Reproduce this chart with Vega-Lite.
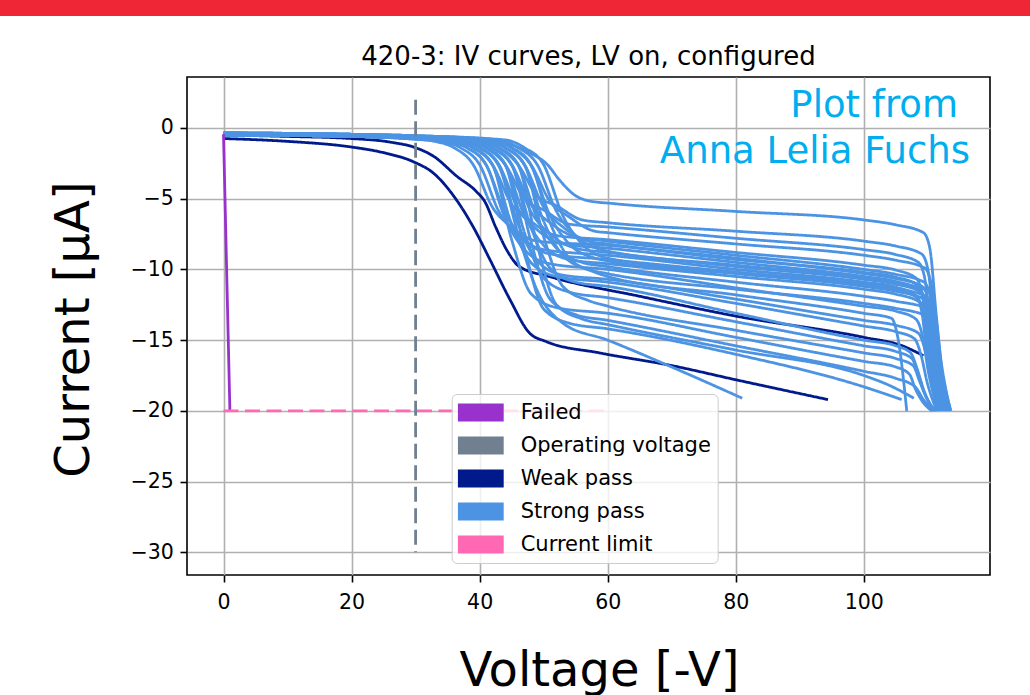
{
  "$schema": "https://vega.github.io/schema/vega-lite/v6.json",
  "width": 803,
  "height": 498,
  "autosize": {"type": "none"},
  "padding": {"left": 187, "top": 77, "right": 40, "bottom": 120},
  "background": "#ffffff",
  "title": {"text": "420-3: IV curves, LV on, configured", "fontSize": 26, "fontWeight": "normal", "color": "#000000", "font": "DejaVu Sans", "anchor": "middle", "baseline": "alphabetic", "offset": -104.2},
  "datasets": {
    "iv": [
      {"id":"w1","status":"Weak pass","V":0,"I":-0.75},{"id":"w1","status":"Weak pass","V":10,"I":-0.95},{"id":"w1","status":"Weak pass","V":20,"I":-1.35},{"id":"w1","status":"Weak pass","V":25,"I":-1.75},{"id":"w1","status":"Weak pass","V":29.7,"I":-2.4},{"id":"w1","status":"Weak pass","V":32.8,"I":-3.2},{"id":"w1","status":"Weak pass","V":36.4,"I":-5.1},{"id":"w1","status":"Weak pass","V":39,"I":-7.0},{"id":"w1","status":"Weak pass","V":41.6,"I":-9.3},{"id":"w1","status":"Weak pass","V":44.7,"I":-12.1},{"id":"w1","status":"Weak pass","V":47.8,"I":-14.5},{"id":"w1","status":"Weak pass","V":50.4,"I":-15.1},{"id":"w1","status":"Weak pass","V":58.7,"I":-15.9},{"id":"w1","status":"Weak pass","V":70,"I":-16.8},{"id":"w1","status":"Weak pass","V":80,"I":-17.8},{"id":"w1","status":"Weak pass","V":94.4,"I":-19.2},
      {"id":"w2","status":"Weak pass","V":0,"I":-0.5},{"id":"w2","status":"Weak pass","V":10,"I":-0.6},{"id":"w2","status":"Weak pass","V":20,"I":-0.75},{"id":"w2","status":"Weak pass","V":26,"I":-1.0},{"id":"w2","status":"Weak pass","V":30,"I":-1.4},{"id":"w2","status":"Weak pass","V":32.8,"I":-2.0},{"id":"w2","status":"Weak pass","V":36.4,"I":-3.4},{"id":"w2","status":"Weak pass","V":39.5,"I":-4.5},{"id":"w2","status":"Weak pass","V":40.8,"I":-5.2},{"id":"w2","status":"Weak pass","V":42.5,"I":-7.0},{"id":"w2","status":"Weak pass","V":44.2,"I":-8.6},{"id":"w2","status":"Weak pass","V":46.2,"I":-9.8},{"id":"w2","status":"Weak pass","V":50.9,"I":-10.5},{"id":"w2","status":"Weak pass","V":65,"I":-11.9},{"id":"w2","status":"Weak pass","V":80,"I":-13.3},{"id":"w2","status":"Weak pass","V":100,"I":-14.8},{"id":"w2","status":"Weak pass","V":106,"I":-15.4},{"id":"w2","status":"Weak pass","V":109.3,"I":-16.1},
      {"id":"s1","status":"Strong pass","V":0,"I":-0.35},{"id":"s1","status":"Strong pass","V":20,"I":-0.45},{"id":"s1","status":"Strong pass","V":30,"I":-0.55},{"id":"s1","status":"Strong pass","V":40,"I":-0.8},{"id":"s1","status":"Strong pass","V":45,"I":-1.2},{"id":"s1","status":"Strong pass","V":48,"I":-1.8},{"id":"s1","status":"Strong pass","V":50.6,"I":-2.6},{"id":"s1","status":"Strong pass","V":52.5,"I":-3.7},{"id":"s1","status":"Strong pass","V":54.7,"I":-4.7},{"id":"s1","status":"Strong pass","V":57,"I":-5.15},{"id":"s1","status":"Strong pass","V":61,"I":-5.35},{"id":"s1","status":"Strong pass","V":80,"I":-5.9},{"id":"s1","status":"Strong pass","V":100,"I":-6.5},{"id":"s1","status":"Strong pass","V":105,"I":-6.85},{"id":"s1","status":"Strong pass","V":109.3,"I":-7.4},{"id":"s1","status":"Strong pass","V":110.3,"I":-8.5},{"id":"s1","status":"Strong pass","V":111.3,"I":-13.2},{"id":"s1","status":"Strong pass","V":112.8,"I":-20},
      {"id":"s2","status":"Strong pass","V":0,"I":-0.4},{"id":"s2","status":"Strong pass","V":20,"I":-0.5},{"id":"s2","status":"Strong pass","V":30,"I":-0.65},{"id":"s2","status":"Strong pass","V":40,"I":-0.9},{"id":"s2","status":"Strong pass","V":43,"I":-1.4},{"id":"s2","status":"Strong pass","V":46,"I":-2.6},{"id":"s2","status":"Strong pass","V":49,"I":-4.8},{"id":"s2","status":"Strong pass","V":52,"I":-5.5},{"id":"s2","status":"Strong pass","V":56,"I":-6.5},{"id":"s2","status":"Strong pass","V":60,"I":-6.7},{"id":"s2","status":"Strong pass","V":80,"I":-7.3},{"id":"s2","status":"Strong pass","V":100,"I":-8.0},{"id":"s2","status":"Strong pass","V":105,"I":-8.35},{"id":"s2","status":"Strong pass","V":109,"I":-8.9},{"id":"s2","status":"Strong pass","V":110,"I":-10},{"id":"s2","status":"Strong pass","V":111,"I":-14},{"id":"s2","status":"Strong pass","V":112.5,"I":-20},
      {"id":"s3","status":"Strong pass","V":0,"I":-0.45},{"id":"s3","status":"Strong pass","V":20,"I":-0.55},{"id":"s3","status":"Strong pass","V":30,"I":-0.7},{"id":"s3","status":"Strong pass","V":38,"I":-0.9},{"id":"s3","status":"Strong pass","V":41,"I":-1.4},{"id":"s3","status":"Strong pass","V":44,"I":-2.6},{"id":"s3","status":"Strong pass","V":47,"I":-5.0},{"id":"s3","status":"Strong pass","V":50,"I":-5.8},{"id":"s3","status":"Strong pass","V":54,"I":-6.8},{"id":"s3","status":"Strong pass","V":60,"I":-7.0},{"id":"s3","status":"Strong pass","V":80,"I":-7.8},{"id":"s3","status":"Strong pass","V":100,"I":-8.6},{"id":"s3","status":"Strong pass","V":105,"I":-8.95},{"id":"s3","status":"Strong pass","V":108.5,"I":-9.5},{"id":"s3","status":"Strong pass","V":109.5,"I":-10.6},{"id":"s3","status":"Strong pass","V":110.5,"I":-15.3},{"id":"s3","status":"Strong pass","V":112,"I":-20},
      {"id":"s4","status":"Strong pass","V":0,"I":-0.4},{"id":"s4","status":"Strong pass","V":20,"I":-0.5},{"id":"s4","status":"Strong pass","V":30,"I":-0.6},{"id":"s4","status":"Strong pass","V":42,"I":-0.9},{"id":"s4","status":"Strong pass","V":45,"I":-1.4},{"id":"s4","status":"Strong pass","V":48,"I":-2.6},{"id":"s4","status":"Strong pass","V":51,"I":-5.2},{"id":"s4","status":"Strong pass","V":54,"I":-6.3},{"id":"s4","status":"Strong pass","V":58,"I":-7.3},{"id":"s4","status":"Strong pass","V":60,"I":-7.4},{"id":"s4","status":"Strong pass","V":80,"I":-8.2},{"id":"s4","status":"Strong pass","V":100,"I":-9.0},{"id":"s4","status":"Strong pass","V":105,"I":-9.35},{"id":"s4","status":"Strong pass","V":109.5,"I":-9.9},{"id":"s4","status":"Strong pass","V":110.5,"I":-11},{"id":"s4","status":"Strong pass","V":111.5,"I":-15.5},{"id":"s4","status":"Strong pass","V":113,"I":-20},
      {"id":"s5","status":"Strong pass","V":0,"I":-0.5},{"id":"s5","status":"Strong pass","V":20,"I":-0.6},{"id":"s5","status":"Strong pass","V":30,"I":-0.75},{"id":"s5","status":"Strong pass","V":36,"I":-0.95},{"id":"s5","status":"Strong pass","V":39,"I":-1.4},{"id":"s5","status":"Strong pass","V":42,"I":-2.6},{"id":"s5","status":"Strong pass","V":45,"I":-5.4},{"id":"s5","status":"Strong pass","V":48,"I":-6.6},{"id":"s5","status":"Strong pass","V":52,"I":-7.6},{"id":"s5","status":"Strong pass","V":60,"I":-7.9},{"id":"s5","status":"Strong pass","V":80,"I":-8.8},{"id":"s5","status":"Strong pass","V":100,"I":-9.7},{"id":"s5","status":"Strong pass","V":105,"I":-10.05},{"id":"s5","status":"Strong pass","V":108.1,"I":-10.6},{"id":"s5","status":"Strong pass","V":109.1,"I":-11.7},{"id":"s5","status":"Strong pass","V":110.1,"I":-15.9},{"id":"s5","status":"Strong pass","V":111.6,"I":-20},
      {"id":"s6","status":"Strong pass","V":0,"I":-0.35},{"id":"s6","status":"Strong pass","V":20,"I":-0.45},{"id":"s6","status":"Strong pass","V":30,"I":-0.6},{"id":"s6","status":"Strong pass","V":41,"I":-0.9},{"id":"s6","status":"Strong pass","V":44,"I":-1.4},{"id":"s6","status":"Strong pass","V":47,"I":-2.6},{"id":"s6","status":"Strong pass","V":50,"I":-5.6},{"id":"s6","status":"Strong pass","V":53,"I":-7.0},{"id":"s6","status":"Strong pass","V":57,"I":-8.0},{"id":"s6","status":"Strong pass","V":60,"I":-8.2},{"id":"s6","status":"Strong pass","V":80,"I":-9.2},{"id":"s6","status":"Strong pass","V":100,"I":-10.3},{"id":"s6","status":"Strong pass","V":105,"I":-10.65},{"id":"s6","status":"Strong pass","V":109.1,"I":-11.2},{"id":"s6","status":"Strong pass","V":110.1,"I":-12.3},{"id":"s6","status":"Strong pass","V":111.1,"I":-16.2},{"id":"s6","status":"Strong pass","V":112.6,"I":-20},
      {"id":"s7","status":"Strong pass","V":0,"I":-0.45},{"id":"s7","status":"Strong pass","V":20,"I":-0.55},{"id":"s7","status":"Strong pass","V":30,"I":-0.7},{"id":"s7","status":"Strong pass","V":37,"I":-0.95},{"id":"s7","status":"Strong pass","V":40,"I":-1.4},{"id":"s7","status":"Strong pass","V":43,"I":-2.6},{"id":"s7","status":"Strong pass","V":46,"I":-5.7},{"id":"s7","status":"Strong pass","V":49,"I":-7.2},{"id":"s7","status":"Strong pass","V":53,"I":-8.2},{"id":"s7","status":"Strong pass","V":60,"I":-8.5},{"id":"s7","status":"Strong pass","V":80,"I":-9.5},{"id":"s7","status":"Strong pass","V":100,"I":-10.5},{"id":"s7","status":"Strong pass","V":105,"I":-10.85},{"id":"s7","status":"Strong pass","V":108.5,"I":-11.4},{"id":"s7","status":"Strong pass","V":109.5,"I":-12.5},{"id":"s7","status":"Strong pass","V":110.5,"I":-16.3},{"id":"s7","status":"Strong pass","V":112,"I":-20},
      {"id":"s8","status":"Strong pass","V":0,"I":-0.4},{"id":"s8","status":"Strong pass","V":20,"I":-0.5},{"id":"s8","status":"Strong pass","V":30,"I":-0.65},{"id":"s8","status":"Strong pass","V":39,"I":-0.9},{"id":"s8","status":"Strong pass","V":42,"I":-1.4},{"id":"s8","status":"Strong pass","V":45,"I":-2.6},{"id":"s8","status":"Strong pass","V":48,"I":-5.9},{"id":"s8","status":"Strong pass","V":51,"I":-7.5},{"id":"s8","status":"Strong pass","V":55,"I":-8.5},{"id":"s8","status":"Strong pass","V":60,"I":-8.8},{"id":"s8","status":"Strong pass","V":80,"I":-9.8},{"id":"s8","status":"Strong pass","V":100,"I":-10.7},{"id":"s8","status":"Strong pass","V":105,"I":-11.05},{"id":"s8","status":"Strong pass","V":108.9,"I":-11.6},{"id":"s8","status":"Strong pass","V":109.9,"I":-12.7},{"id":"s8","status":"Strong pass","V":110.9,"I":-16.4},{"id":"s8","status":"Strong pass","V":112.4,"I":-20},
      {"id":"s9","status":"Strong pass","V":0,"I":-0.5},{"id":"s9","status":"Strong pass","V":20,"I":-0.6},{"id":"s9","status":"Strong pass","V":30,"I":-0.8},{"id":"s9","status":"Strong pass","V":34,"I":-0.95},{"id":"s9","status":"Strong pass","V":37,"I":-1.4},{"id":"s9","status":"Strong pass","V":40,"I":-2.6},{"id":"s9","status":"Strong pass","V":43,"I":-5.9},{"id":"s9","status":"Strong pass","V":46,"I":-7.6},{"id":"s9","status":"Strong pass","V":50,"I":-8.6},{"id":"s9","status":"Strong pass","V":60,"I":-9.0},{"id":"s9","status":"Strong pass","V":80,"I":-10.0},{"id":"s9","status":"Strong pass","V":100,"I":-10.9},{"id":"s9","status":"Strong pass","V":105,"I":-11.25},{"id":"s9","status":"Strong pass","V":108,"I":-11.8},{"id":"s9","status":"Strong pass","V":109,"I":-12.9},{"id":"s9","status":"Strong pass","V":110,"I":-16.5},{"id":"s9","status":"Strong pass","V":111.5,"I":-20},
      {"id":"s10","status":"Strong pass","V":0,"I":-0.35},{"id":"s10","status":"Strong pass","V":20,"I":-0.45},{"id":"s10","status":"Strong pass","V":30,"I":-0.55},{"id":"s10","status":"Strong pass","V":44,"I":-0.85},{"id":"s10","status":"Strong pass","V":47,"I":-1.4},{"id":"s10","status":"Strong pass","V":50,"I":-2.6},{"id":"s10","status":"Strong pass","V":53,"I":-6.2},{"id":"s10","status":"Strong pass","V":56,"I":-8.2},{"id":"s10","status":"Strong pass","V":60,"I":-9.2},{"id":"s10","status":"Strong pass","V":80,"I":-10.2},{"id":"s10","status":"Strong pass","V":100,"I":-11.0},{"id":"s10","status":"Strong pass","V":105,"I":-11.35},{"id":"s10","status":"Strong pass","V":109.7,"I":-11.9},{"id":"s10","status":"Strong pass","V":110.7,"I":-13},{"id":"s10","status":"Strong pass","V":111.7,"I":-16.5},{"id":"s10","status":"Strong pass","V":113.2,"I":-20},
      {"id":"s11","status":"Strong pass","V":0,"I":-0.45},{"id":"s11","status":"Strong pass","V":20,"I":-0.55},{"id":"s11","status":"Strong pass","V":30,"I":-0.7},{"id":"s11","status":"Strong pass","V":38,"I":-0.95},{"id":"s11","status":"Strong pass","V":41,"I":-1.4},{"id":"s11","status":"Strong pass","V":44,"I":-2.6},{"id":"s11","status":"Strong pass","V":47,"I":-6.2},{"id":"s11","status":"Strong pass","V":50,"I":-8.3},{"id":"s11","status":"Strong pass","V":54,"I":-9.3},{"id":"s11","status":"Strong pass","V":60,"I":-9.6},{"id":"s11","status":"Strong pass","V":80,"I":-10.5},{"id":"s11","status":"Strong pass","V":100,"I":-11.4},{"id":"s11","status":"Strong pass","V":105,"I":-11.75},{"id":"s11","status":"Strong pass","V":108.7,"I":-12.3},{"id":"s11","status":"Strong pass","V":109.7,"I":-13.4},{"id":"s11","status":"Strong pass","V":110.7,"I":-16.7},{"id":"s11","status":"Strong pass","V":112.2,"I":-20},
      {"id":"s12","status":"Strong pass","V":0,"I":-0.4},{"id":"s12","status":"Strong pass","V":20,"I":-0.5},{"id":"s12","status":"Strong pass","V":30,"I":-0.6},{"id":"s12","status":"Strong pass","V":40,"I":-0.9},{"id":"s12","status":"Strong pass","V":43,"I":-1.4},{"id":"s12","status":"Strong pass","V":46,"I":-2.6},{"id":"s12","status":"Strong pass","V":49,"I":-6.4},{"id":"s12","status":"Strong pass","V":52,"I":-8.5},{"id":"s12","status":"Strong pass","V":56,"I":-9.5},{"id":"s12","status":"Strong pass","V":60,"I":-9.8},{"id":"s12","status":"Strong pass","V":80,"I":-10.9},{"id":"s12","status":"Strong pass","V":100,"I":-11.9},{"id":"s12","status":"Strong pass","V":105,"I":-12.25},{"id":"s12","status":"Strong pass","V":110.1,"I":-12.8},{"id":"s12","status":"Strong pass","V":111.1,"I":-13.9},{"id":"s12","status":"Strong pass","V":112.1,"I":-17},{"id":"s12","status":"Strong pass","V":113.6,"I":-20},
      {"id":"s13","status":"Strong pass","V":0,"I":-0.5},{"id":"s13","status":"Strong pass","V":20,"I":-0.6},{"id":"s13","status":"Strong pass","V":30,"I":-0.75},{"id":"s13","status":"Strong pass","V":35,"I":-0.95},{"id":"s13","status":"Strong pass","V":38,"I":-1.4},{"id":"s13","status":"Strong pass","V":41,"I":-2.6},{"id":"s13","status":"Strong pass","V":44,"I":-6.4},{"id":"s13","status":"Strong pass","V":47,"I":-8.6},{"id":"s13","status":"Strong pass","V":51,"I":-9.6},{"id":"s13","status":"Strong pass","V":60,"I":-10.0},{"id":"s13","status":"Strong pass","V":80,"I":-11.3},{"id":"s13","status":"Strong pass","V":100,"I":-12.6},{"id":"s13","status":"Strong pass","V":105,"I":-12.95},{"id":"s13","status":"Strong pass","V":108.1,"I":-13.5},{"id":"s13","status":"Strong pass","V":109.1,"I":-14.6},{"id":"s13","status":"Strong pass","V":110.1,"I":-17.3},{"id":"s13","status":"Strong pass","V":111.6,"I":-20},
      {"id":"s14","status":"Strong pass","V":0,"I":-0.35},{"id":"s14","status":"Strong pass","V":20,"I":-0.45},{"id":"s14","status":"Strong pass","V":30,"I":-0.6},{"id":"s14","status":"Strong pass","V":42,"I":-0.9},{"id":"s14","status":"Strong pass","V":45,"I":-1.4},{"id":"s14","status":"Strong pass","V":48,"I":-2.6},{"id":"s14","status":"Strong pass","V":51,"I":-6.7},{"id":"s14","status":"Strong pass","V":54,"I":-9.2},{"id":"s14","status":"Strong pass","V":58,"I":-10.2},{"id":"s14","status":"Strong pass","V":60,"I":-10.5},{"id":"s14","status":"Strong pass","V":80,"I":-11.8},{"id":"s14","status":"Strong pass","V":100,"I":-13.1},{"id":"s14","status":"Strong pass","V":104.3,"I":-13.45},{"id":"s14","status":"Strong pass","V":105.3,"I":-14.8},{"id":"s14","status":"Strong pass","V":106.7,"I":-20},
      {"id":"s15","status":"Strong pass","V":0,"I":-0.45},{"id":"s15","status":"Strong pass","V":20,"I":-0.55},{"id":"s15","status":"Strong pass","V":30,"I":-0.7},{"id":"s15","status":"Strong pass","V":37,"I":-0.95},{"id":"s15","status":"Strong pass","V":40,"I":-1.4},{"id":"s15","status":"Strong pass","V":43,"I":-2.6},{"id":"s15","status":"Strong pass","V":46,"I":-6.8},{"id":"s15","status":"Strong pass","V":49,"I":-9.4},{"id":"s15","status":"Strong pass","V":53,"I":-10.4},{"id":"s15","status":"Strong pass","V":60,"I":-10.7},{"id":"s15","status":"Strong pass","V":80,"I":-12.1},{"id":"s15","status":"Strong pass","V":100,"I":-13.6},{"id":"s15","status":"Strong pass","V":105,"I":-13.95},{"id":"s15","status":"Strong pass","V":108.5,"I":-14.5},{"id":"s15","status":"Strong pass","V":109.5,"I":-15.6},{"id":"s15","status":"Strong pass","V":110.5,"I":-17.8},{"id":"s15","status":"Strong pass","V":112,"I":-20},
      {"id":"s16","status":"Strong pass","V":0,"I":-0.4},{"id":"s16","status":"Strong pass","V":20,"I":-0.5},{"id":"s16","status":"Strong pass","V":30,"I":-0.65},{"id":"s16","status":"Strong pass","V":39,"I":-0.9},{"id":"s16","status":"Strong pass","V":42,"I":-1.4},{"id":"s16","status":"Strong pass","V":45,"I":-2.6},{"id":"s16","status":"Strong pass","V":48,"I":-7.0},{"id":"s16","status":"Strong pass","V":51,"I":-9.9},{"id":"s16","status":"Strong pass","V":55,"I":-10.9},{"id":"s16","status":"Strong pass","V":60,"I":-11.2},{"id":"s16","status":"Strong pass","V":80,"I":-13.1},{"id":"s16","status":"Strong pass","V":100,"I":-15.0},{"id":"s16","status":"Strong pass","V":105,"I":-15.4},{"id":"s16","status":"Strong pass","V":107.3,"I":-15.9},{"id":"s16","status":"Strong pass","V":108.3,"I":-17},{"id":"s16","status":"Strong pass","V":109.3,"I":-18.5},{"id":"s16","status":"Strong pass","V":110.8,"I":-20},
      {"id":"s17","status":"Strong pass","V":0,"I":-0.45},{"id":"s17","status":"Strong pass","V":20,"I":-0.55},{"id":"s17","status":"Strong pass","V":30,"I":-0.7},{"id":"s17","status":"Strong pass","V":41,"I":-0.95},{"id":"s17","status":"Strong pass","V":44,"I":-1.4},{"id":"s17","status":"Strong pass","V":47,"I":-2.6},{"id":"s17","status":"Strong pass","V":50,"I":-7.7},{"id":"s17","status":"Strong pass","V":53,"I":-11.2},{"id":"s17","status":"Strong pass","V":57,"I":-12.2},{"id":"s17","status":"Strong pass","V":60,"I":-12.6},{"id":"s17","status":"Strong pass","V":80,"I":-14.3},{"id":"s17","status":"Strong pass","V":100,"I":-15.9},{"id":"s17","status":"Strong pass","V":105,"I":-16.3},{"id":"s17","status":"Strong pass","V":107.7,"I":-16.8},{"id":"s17","status":"Strong pass","V":108.7,"I":-17.9},{"id":"s17","status":"Strong pass","V":109.7,"I":-19},{"id":"s17","status":"Strong pass","V":111.2,"I":-20},
      {"id":"s18","status":"Strong pass","V":0,"I":-0.5},{"id":"s18","status":"Strong pass","V":20,"I":-0.6},{"id":"s18","status":"Strong pass","V":30,"I":-0.75},{"id":"s18","status":"Strong pass","V":36,"I":-0.95},{"id":"s18","status":"Strong pass","V":39,"I":-1.4},{"id":"s18","status":"Strong pass","V":42,"I":-2.6},{"id":"s18","status":"Strong pass","V":45,"I":-7.9},{"id":"s18","status":"Strong pass","V":48,"I":-11.7},{"id":"s18","status":"Strong pass","V":52,"I":-12.7},{"id":"s18","status":"Strong pass","V":60,"I":-13.1},{"id":"s18","status":"Strong pass","V":80,"I":-14.8},{"id":"s18","status":"Strong pass","V":100,"I":-16.5},{"id":"s18","status":"Strong pass","V":105,"I":-16.9},{"id":"s18","status":"Strong pass","V":107.1,"I":-17.4},{"id":"s18","status":"Strong pass","V":108.1,"I":-18.5},{"id":"s18","status":"Strong pass","V":109.1,"I":-19.3},{"id":"s18","status":"Strong pass","V":110.6,"I":-20},
      {"id":"s19","status":"Strong pass","V":0,"I":-0.4},{"id":"s19","status":"Strong pass","V":20,"I":-0.5},{"id":"s19","status":"Strong pass","V":30,"I":-0.65},{"id":"s19","status":"Strong pass","V":40,"I":-0.9},{"id":"s19","status":"Strong pass","V":43,"I":-1.4},{"id":"s19","status":"Strong pass","V":46,"I":-2.6},{"id":"s19","status":"Strong pass","V":49,"I":-8.3},{"id":"s19","status":"Strong pass","V":52,"I":-12.5},{"id":"s19","status":"Strong pass","V":56,"I":-13.5},{"id":"s19","status":"Strong pass","V":60,"I":-13.9},{"id":"s19","status":"Strong pass","V":80,"I":-15.7},{"id":"s19","status":"Strong pass","V":100,"I":-17.5},{"id":"s19","status":"Strong pass","V":104,"I":-18.2},{"id":"s19","status":"Strong pass","V":107.8,"I":-19.1},
      {"id":"s20","status":"Strong pass","V":0,"I":-0.45},{"id":"s20","status":"Strong pass","V":20,"I":-0.55},{"id":"s20","status":"Strong pass","V":30,"I":-0.7},{"id":"s20","status":"Strong pass","V":38,"I":-0.95},{"id":"s20","status":"Strong pass","V":41,"I":-1.4},{"id":"s20","status":"Strong pass","V":44,"I":-2.6},{"id":"s20","status":"Strong pass","V":47,"I":-8.5},{"id":"s20","status":"Strong pass","V":50,"I":-12.8},{"id":"s20","status":"Strong pass","V":54,"I":-13.8},{"id":"s20","status":"Strong pass","V":60,"I":-14.2},{"id":"s20","status":"Strong pass","V":80,"I":-16.0},{"id":"s20","status":"Strong pass","V":100,"I":-18.3},{"id":"s20","status":"Strong pass","V":105.9,"I":-19.2},
      {"id":"s21","status":"Strong pass","V":0,"I":-0.45},{"id":"s21","status":"Strong pass","V":20,"I":-0.55},{"id":"s21","status":"Strong pass","V":30,"I":-0.7},{"id":"s21","status":"Strong pass","V":37,"I":-0.95},{"id":"s21","status":"Strong pass","V":40,"I":-1.4},{"id":"s21","status":"Strong pass","V":43,"I":-2.7},{"id":"s21","status":"Strong pass","V":46,"I":-7.5},{"id":"s21","status":"Strong pass","V":49,"I":-11.5},{"id":"s21","status":"Strong pass","V":53,"I":-13.8},{"id":"s21","status":"Strong pass","V":60,"I":-15.0},{"id":"s21","status":"Strong pass","V":70,"I":-16.9},{"id":"s21","status":"Strong pass","V":81,"I":-19.1},
      {"id":"s22","status":"Strong pass","V":0,"I":-0.4},{"id":"s22","status":"Strong pass","V":20,"I":-0.5},{"id":"s22","status":"Strong pass","V":30,"I":-0.65},{"id":"s22","status":"Strong pass","V":39,"I":-0.9},{"id":"s22","status":"Strong pass","V":42,"I":-1.4},{"id":"s22","status":"Strong pass","V":45,"I":-2.6},{"id":"s22","status":"Strong pass","V":48,"I":-8.0},{"id":"s22","status":"Strong pass","V":51,"I":-12.1},{"id":"s22","status":"Strong pass","V":55,"I":-13.2},{"id":"s22","status":"Strong pass","V":60,"I":-13.6},{"id":"s22","status":"Strong pass","V":80,"I":-15.4},{"id":"s22","status":"Strong pass","V":100,"I":-17.2},{"id":"s22","status":"Strong pass","V":105,"I":-17.7},{"id":"s22","status":"Strong pass","V":108,"I":-18.3},{"id":"s22","status":"Strong pass","V":109.3,"I":-19.2},{"id":"s22","status":"Strong pass","V":110.8,"I":-20},
      {"id":"s23","status":"Strong pass","V":0,"I":-0.4},{"id":"s23","status":"Strong pass","V":20,"I":-0.5},{"id":"s23","status":"Strong pass","V":30,"I":-0.6},{"id":"s23","status":"Strong pass","V":39,"I":-0.9},{"id":"s23","status":"Strong pass","V":42,"I":-1.4},{"id":"s23","status":"Strong pass","V":45,"I":-2.6},{"id":"s23","status":"Strong pass","V":48,"I":-5.4},{"id":"s23","status":"Strong pass","V":51,"I":-6.7},{"id":"s23","status":"Strong pass","V":55,"I":-7.7},{"id":"s23","status":"Strong pass","V":60,"I":-8.0},{"id":"s23","status":"Strong pass","V":80,"I":-9.0},{"id":"s23","status":"Strong pass","V":100,"I":-10.0},{"id":"s23","status":"Strong pass","V":105,"I":-10.35},{"id":"s23","status":"Strong pass","V":109.4,"I":-10.9},{"id":"s23","status":"Strong pass","V":110.4,"I":-12},{"id":"s23","status":"Strong pass","V":111.4,"I":-16},{"id":"s23","status":"Strong pass","V":112.9,"I":-20},
      {"id":"s24","status":"Strong pass","V":0,"I":-0.5},{"id":"s24","status":"Strong pass","V":20,"I":-0.6},{"id":"s24","status":"Strong pass","V":30,"I":-0.75},{"id":"s24","status":"Strong pass","V":35,"I":-0.95},{"id":"s24","status":"Strong pass","V":38,"I":-1.4},{"id":"s24","status":"Strong pass","V":41,"I":-2.6},{"id":"s24","status":"Strong pass","V":44,"I":-6.0},{"id":"s24","status":"Strong pass","V":47,"I":-7.9},{"id":"s24","status":"Strong pass","V":51,"I":-8.9},{"id":"s24","status":"Strong pass","V":60,"I":-9.3},{"id":"s24","status":"Strong pass","V":80,"I":-10.2},{"id":"s24","status":"Strong pass","V":100,"I":-11.1},{"id":"s24","status":"Strong pass","V":105,"I":-11.45},{"id":"s24","status":"Strong pass","V":108.3,"I":-12},{"id":"s24","status":"Strong pass","V":109.3,"I":-13.1},{"id":"s24","status":"Strong pass","V":110.3,"I":-16.5},{"id":"s24","status":"Strong pass","V":111.8,"I":-20},
      {"id":"s25","status":"Strong pass","V":0,"I":-0.4},{"id":"s25","status":"Strong pass","V":20,"I":-0.5},{"id":"s25","status":"Strong pass","V":30,"I":-0.6},{"id":"s25","status":"Strong pass","V":41,"I":-0.9},{"id":"s25","status":"Strong pass","V":44,"I":-1.4},{"id":"s25","status":"Strong pass","V":47,"I":-2.6},{"id":"s25","status":"Strong pass","V":50,"I":-6.6},{"id":"s25","status":"Strong pass","V":53,"I":-9.0},{"id":"s25","status":"Strong pass","V":57,"I":-10.0},{"id":"s25","status":"Strong pass","V":60,"I":-10.3},{"id":"s25","status":"Strong pass","V":80,"I":-11.4},{"id":"s25","status":"Strong pass","V":100,"I":-12.4},{"id":"s25","status":"Strong pass","V":105,"I":-12.75},{"id":"s25","status":"Strong pass","V":109.8,"I":-13.3},{"id":"s25","status":"Strong pass","V":110.8,"I":-14.4},{"id":"s25","status":"Strong pass","V":111.8,"I":-17.2},{"id":"s25","status":"Strong pass","V":113.3,"I":-20},
      {"id":"s26","status":"Strong pass","V":0,"I":-0.35},{"id":"s26","status":"Strong pass","V":20,"I":-0.45},{"id":"s26","status":"Strong pass","V":30,"I":-0.55},{"id":"s26","status":"Strong pass","V":43,"I":-0.85},{"id":"s26","status":"Strong pass","V":46,"I":-1.4},{"id":"s26","status":"Strong pass","V":49,"I":-2.6},{"id":"s26","status":"Strong pass","V":52,"I":-5.9},{"id":"s26","status":"Strong pass","V":55,"I":-7.6},{"id":"s26","status":"Strong pass","V":59,"I":-8.6},{"id":"s26","status":"Strong pass","V":80,"I":-9.7},{"id":"s26","status":"Strong pass","V":100,"I":-10.6},{"id":"s26","status":"Strong pass","V":105,"I":-10.95},{"id":"s26","status":"Strong pass","V":110,"I":-11.5},{"id":"s26","status":"Strong pass","V":111,"I":-12.6},{"id":"s26","status":"Strong pass","V":112,"I":-16.3},{"id":"s26","status":"Strong pass","V":113.5,"I":-20},
      {"id":"s27","status":"Strong pass","V":0,"I":-0.5},{"id":"s27","status":"Strong pass","V":20,"I":-0.6},{"id":"s27","status":"Strong pass","V":30,"I":-0.75},{"id":"s27","status":"Strong pass","V":36,"I":-0.95},{"id":"s27","status":"Strong pass","V":39,"I":-1.4},{"id":"s27","status":"Strong pass","V":42,"I":-2.6},{"id":"s27","status":"Strong pass","V":45,"I":-6.8},{"id":"s27","status":"Strong pass","V":48,"I":-9.5},{"id":"s27","status":"Strong pass","V":52,"I":-10.5},{"id":"s27","status":"Strong pass","V":60,"I":-10.9},{"id":"s27","status":"Strong pass","V":80,"I":-12.4},{"id":"s27","status":"Strong pass","V":100,"I":-14.0},{"id":"s27","status":"Strong pass","V":105,"I":-14.4},{"id":"s27","status":"Strong pass","V":107.9,"I":-14.9},{"id":"s27","status":"Strong pass","V":108.9,"I":-16},{"id":"s27","status":"Strong pass","V":109.9,"I":-18},{"id":"s27","status":"Strong pass","V":111.4,"I":-20},
      {"id":"s28","status":"Strong pass","V":0,"I":-0.45},{"id":"s28","status":"Strong pass","V":20,"I":-0.55},{"id":"s28","status":"Strong pass","V":30,"I":-0.7},{"id":"s28","status":"Strong pass","V":38,"I":-0.95},{"id":"s28","status":"Strong pass","V":41,"I":-1.4},{"id":"s28","status":"Strong pass","V":44,"I":-2.6},{"id":"s28","status":"Strong pass","V":47,"I":-7.4},{"id":"s28","status":"Strong pass","V":50,"I":-10.6},{"id":"s28","status":"Strong pass","V":54,"I":-11.6},{"id":"s28","status":"Strong pass","V":60,"I":-12.0},{"id":"s28","status":"Strong pass","V":80,"I":-13.7},{"id":"s28","status":"Strong pass","V":100,"I":-15.4},{"id":"s28","status":"Strong pass","V":105,"I":-15.8},{"id":"s28","status":"Strong pass","V":107.5,"I":-16.3},{"id":"s28","status":"Strong pass","V":108.5,"I":-17.4},{"id":"s28","status":"Strong pass","V":109.5,"I":-18.7},{"id":"s28","status":"Strong pass","V":111,"I":-20},
      {"id":"s29","status":"Strong pass","V":0,"I":-0.4},{"id":"s29","status":"Strong pass","V":20,"I":-0.5},{"id":"s29","status":"Strong pass","V":30,"I":-0.6},{"id":"s29","status":"Strong pass","V":42,"I":-0.9},{"id":"s29","status":"Strong pass","V":45,"I":-1.4},{"id":"s29","status":"Strong pass","V":48,"I":-2.6},{"id":"s29","status":"Strong pass","V":51,"I":-6.2},{"id":"s29","status":"Strong pass","V":54,"I":-8.2},{"id":"s29","status":"Strong pass","V":58,"I":-9.2},{"id":"s29","status":"Strong pass","V":60,"I":-9.4},{"id":"s29","status":"Strong pass","V":80,"I":-10.3},{"id":"s29","status":"Strong pass","V":100,"I":-11.2},{"id":"s29","status":"Strong pass","V":105,"I":-11.55},{"id":"s29","status":"Strong pass","V":109.4,"I":-12.1},{"id":"s29","status":"Strong pass","V":110.4,"I":-13.2},{"id":"s29","status":"Strong pass","V":111.4,"I":-16.6},{"id":"s29","status":"Strong pass","V":112.9,"I":-20},
      {"id":"s30","status":"Strong pass","V":0,"I":-0.5},{"id":"s30","status":"Strong pass","V":20,"I":-0.6},{"id":"s30","status":"Strong pass","V":30,"I":-0.8},{"id":"s30","status":"Strong pass","V":33,"I":-0.95},{"id":"s30","status":"Strong pass","V":36,"I":-1.4},{"id":"s30","status":"Strong pass","V":39,"I":-2.6},{"id":"s30","status":"Strong pass","V":42,"I":-5.6},{"id":"s30","status":"Strong pass","V":45,"I":-7.0},{"id":"s30","status":"Strong pass","V":49,"I":-8.0},{"id":"s30","status":"Strong pass","V":60,"I":-8.3},{"id":"s30","status":"Strong pass","V":80,"I":-9.3},{"id":"s30","status":"Strong pass","V":100,"I":-10.2},{"id":"s30","status":"Strong pass","V":105,"I":-10.55},{"id":"s30","status":"Strong pass","V":108.4,"I":-11.1},{"id":"s30","status":"Strong pass","V":109.4,"I":-12.2},{"id":"s30","status":"Strong pass","V":110.4,"I":-16.1},{"id":"s30","status":"Strong pass","V":111.9,"I":-20},
      {"id":"f1","status":"Failed","V":0,"I":-0.45},{"id":"f1","status":"Failed","V":1,"I":-20},
      {"id":"cl","status":"Current limit","V":0,"I":-20},{"id":"cl","status":"Current limit","V":60,"I":-20},
      {"id":"op","status":"Operating voltage","V":30,"I":2},{"id":"op","status":"Operating voltage","V":30,"I":-30}
    ]
  },
  "layer": [
    {
      "data": {"name": "iv"},
      "mark": {"type": "line", "strokeWidth": 2.8, "interpolate": "monotone", "strokeCap": "butt"},
      "encoding": {
        "x": {"field": "V", "type": "quantitative", "scale": {"domain": [-5.7, 119.7], "nice": false, "zero": false},
          "axis": {"values": [0, 20, 40, 60, 80, 100], "title": "Voltage [-V]", "labelPadding": 10, "titleX": 412, "titleY": 110, "titleAlign": "center", "titleBaseline": "alphabetic", "labelFlush": false, "labelOverlap": false}},
        "y": {"field": "I", "type": "quantitative", "scale": {"domain": [-31.6, 3.6], "nice": false, "zero": false},
          "axis": {"values": [0, -5, -10, -15, -20, -25, -30], "title": "Current [µA]", "labelPadding": 6.7, "titleX": -99, "titleY": 252, "titleAngle": -90, "titleAlign": "center", "titleBaseline": "alphabetic", "labelOverlap": false}},
        "color": {"field": "status", "type": "nominal",
          "scale": {"domain": ["Failed", "Operating voltage", "Weak pass", "Strong pass", "Current limit"], "range": ["#9932CC", "#708090", "#001a8c", "#4c94e3", "#FF69B4"]},
          "legend": {"title": null, "orient": "none", "legendX": 264.7, "legendY": 317, "direction": "vertical",
            "symbolType": "M-1,-0.39H1V0.39H-1Z", "symbolSize": 2116, "clipHeight": 25, "rowPadding": 8, "padding": 6,
            "labelOffset": 17, "labelFontSize": 21, "labelFont": "DejaVu Sans", "labelColor": "#000000", "labelLimit": 400,
            "strokeColor": "#cccccc", "fillColor": "rgba(255,255,255,0.8)", "cornerRadius": 5,
            "encode": {"symbols": {"update": {"fill": {"scale": "color", "field": "value"}, "stroke": {"value": "transparent"}, "strokeWidth": {"value": 0}, "strokeDash": {"value": []}, "opacity": {"value": 1}}}}}},
        "strokeDash": {"field": "status", "type": "nominal",
          "scale": {"domain": ["Failed", "Operating voltage", "Weak pass", "Strong pass", "Current limit"], "range": [[1, 0], [15, 6.5], [1, 0], [1, 0], [15, 6.5]]},
          "legend": null},
        "detail": {"field": "id"}
      }
    },
    {
      "data": {"values": [{}]},
      "mark": {"type": "rect", "color": "#EF2636", "clip": false},
      "encoding": {"x": {"datum": -40}, "x2": {"datum": 130}, "y": {"datum": 7.91}, "y2": {"datum": 10}}
    },
    {
      "data": {"values": [{}]},
      "mark": {"type": "text", "align": "right", "baseline": "alphabetic", "fontSize": 37, "font": "DejaVu Sans", "color": "#00AEEF"},
      "encoding": {"x": {"datum": 114.7}, "y": {"datum": 0.79}, "text": {"value": "Plot from"}}
    },
    {
      "data": {"values": [{}]},
      "mark": {"type": "text", "align": "right", "baseline": "alphabetic", "fontSize": 37, "font": "DejaVu Sans", "color": "#00AEEF"},
      "encoding": {"x": {"datum": 116.58}, "y": {"datum": -2.46}, "text": {"value": "Anna Lelia Fuchs"}}
    }
  ],
  "config": {
    "font": "DejaVu Sans",
    "view": {"stroke": "#000000", "strokeWidth": 1.6},
    "axis": {"grid": true, "gridColor": "#b0b0b0", "gridWidth": 1.6, "domain": false, "ticks": true, "tickColor": "#000000", "tickWidth": 1.6, "tickSize": 7,
      "labelFont": "DejaVu Sans", "labelFontSize": 20.5, "labelColor": "#000000",
      "titleFont": "DejaVu Sans", "titleFontSize": 48, "titleFontWeight": "normal", "titleColor": "#000000"}
  }
}
